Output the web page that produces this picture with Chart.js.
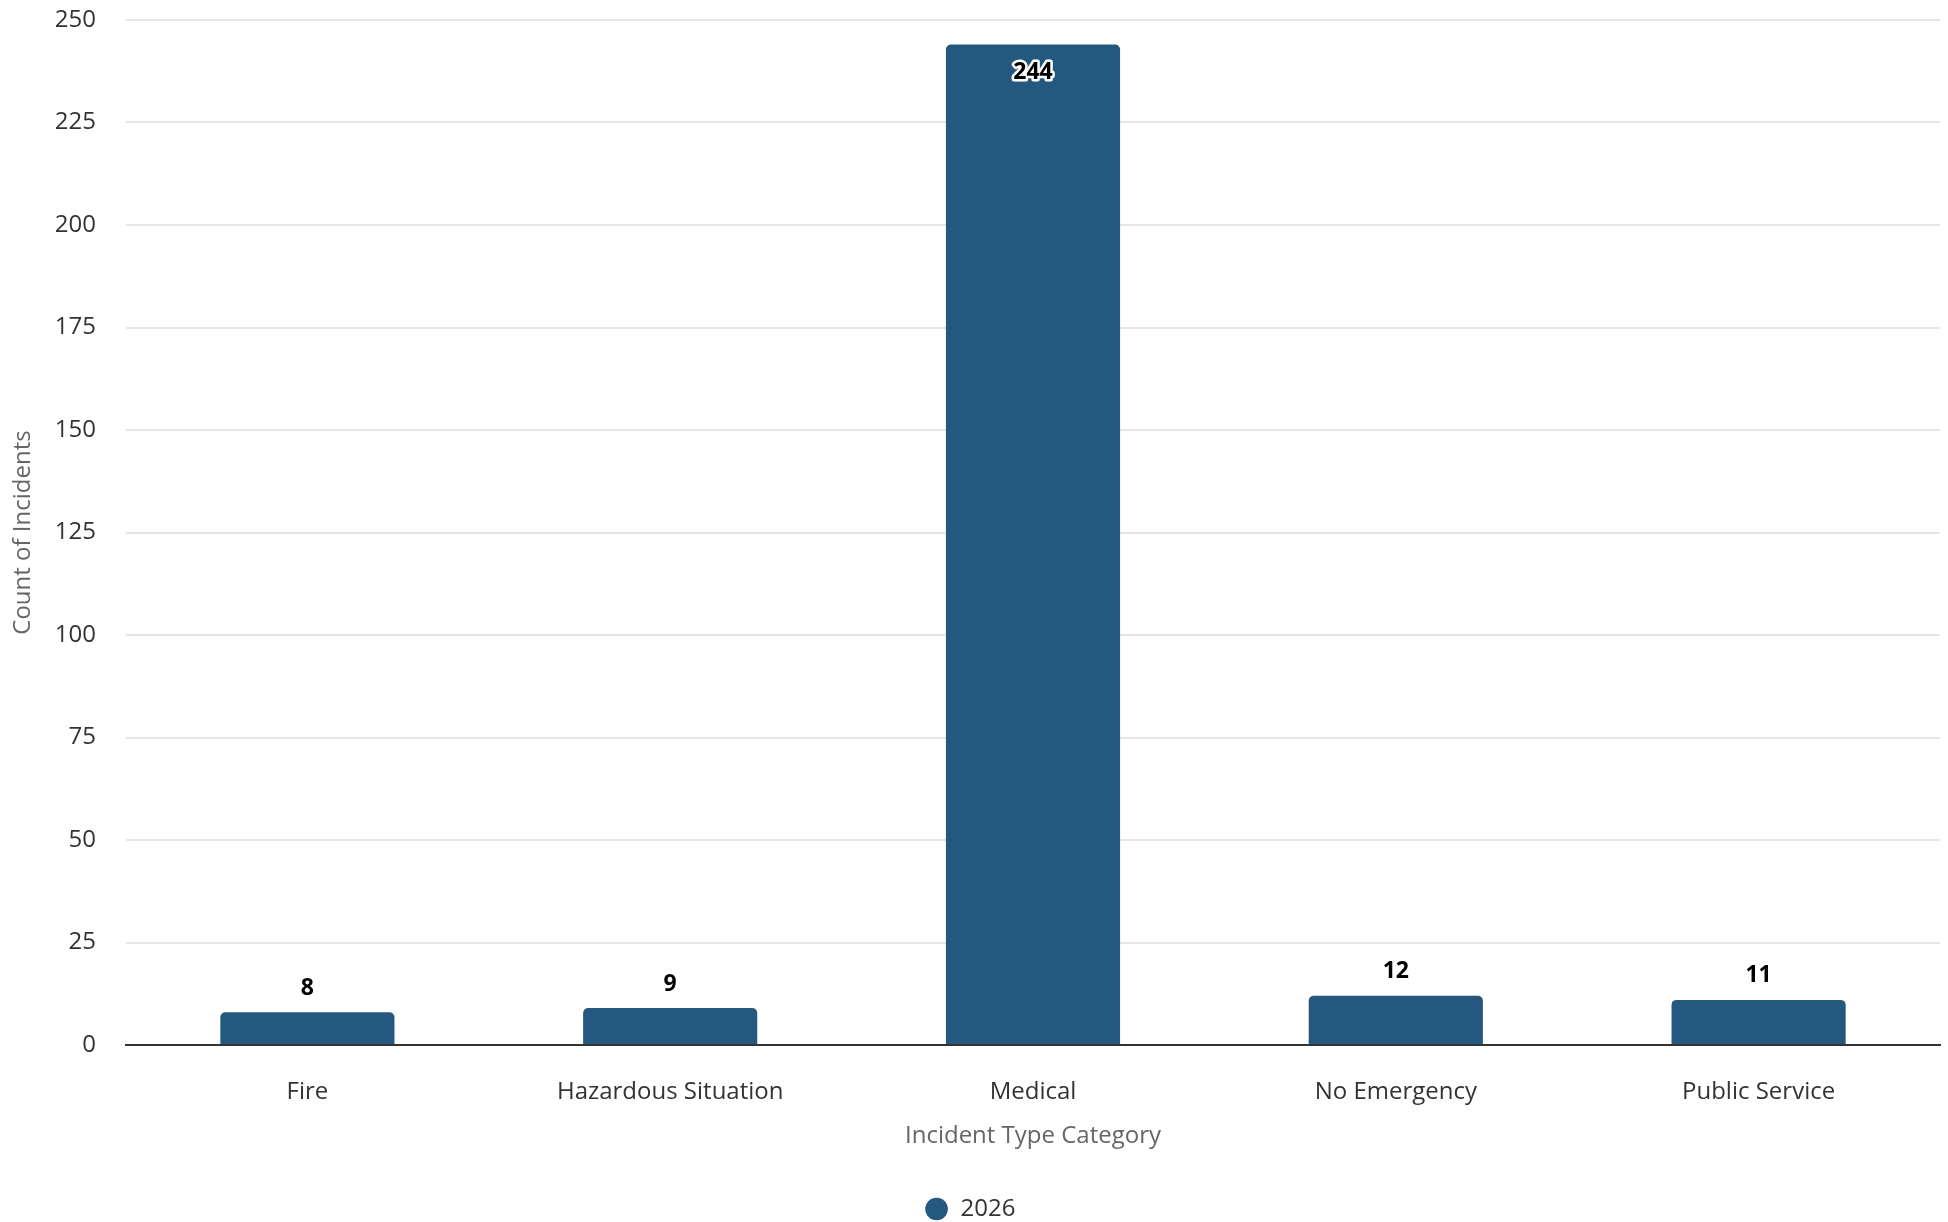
<!DOCTYPE html>
<html lang="en">
<head>
  <meta charset="UTF-8" />
  <title>Incidents by Type</title>
  <script src="https://cdn.jsdelivr.net/npm/chart.js"></script>
  <style>
    html, body { margin: 0; padding: 0; background: #fff; }
    #wrap { width: 1948px; height: 1222px; }
  </style>
</head>
<body>
  <div id="wrap"><canvas id="chart"></canvas></div>

  <script>
    const categories = ['Fire', 'Hazardous Situation', 'Medical', 'No Emergency', 'Public Service'];
    const counts2026 = [8, 9, 244, 12, 11];
    const yTicks = [0, 25, 50, 75, 100, 125, 150, 175, 200, 225, 250];

    const FONT = "'Open Sans', 'Noto Sans', sans-serif";
    const BAR = '#24587e';

    // value labels: above the bar, or inside with a white halo when there's no room
    const valueLabels = {
      id: 'valueLabels',
      afterDatasetsDraw(chart) {
        const ctx = chart.ctx;
        const meta = chart.getDatasetMeta(0);
        ctx.save();
        ctx.font = 'bold 23px ' + FONT;
        ctx.textAlign = 'center';
        ctx.textBaseline = 'middle';
        meta.data.forEach((bar, i) => {
          const txt = String(counts2026[i]);
          let y = bar.y - 24;
          if (y - 12 < chart.chartArea.top) {
            y = bar.y + 28;
            ctx.lineWidth = 5;
            ctx.lineJoin = 'round';
            ctx.strokeStyle = '#fff';
            ctx.strokeText(txt, bar.x, y);
          }
          ctx.fillStyle = '#000';
          ctx.fillText(txt, bar.x, y);
        });
        ctx.restore();
      }
    };

    new Chart(document.getElementById('chart'), {
      type: 'bar',
      data: {
        labels: categories,
        datasets: [{
          label: '2026',
          data: counts2026,
          backgroundColor: BAR,
          borderRadius: { topLeft: 5, topRight: 5 },
          borderSkipped: 'bottom',
          categoryPercentage: 1,
          barPercentage: 0.48
        }]
      },
      options: {
        responsive: true,
        maintainAspectRatio: false,
        animation: false,
        layout: { padding: { top: 20, right: 8, bottom: -9, left: 0 } },
        plugins: {
          tooltip: { enabled: false },
          legend: {
            position: 'bottom',
            labels: {
              usePointStyle: true,
              pointStyle: 'circle',
              boxWidth: 30,
              boxHeight: 16,
              padding: 0,
              color: '#333',
              font: { family: FONT, size: 24 }
            }
          }
        },
        scales: {
          x: {
            afterFit(scale) { scale.height = 152; },
            grid: { display: false },
            border: { display: true, color: '#333', width: 2 },
            ticks: { color: '#333', padding: 25, font: { family: FONT, size: 24 } },
            title: {
              display: true,
              text: 'Incident Type Category',
              color: '#666',
              padding: { top: 10, bottom: 46 },
              font: { family: FONT, size: 24 }
            }
          },
          y: {
            min: 0,
            max: 250,
            afterBuildTicks(scale) { scale.ticks = yTicks.map(v => ({ value: v })); },
            afterFit(scale) {
              scale.width = 126;
              scale.paddingTop = 0;
              scale.paddingBottom = 0;
            },
            grid: { color: '#e6e6e6', lineWidth: 2, drawTicks: false },
            border: { display: false },
            ticks: { color: '#333', padding: 30, font: { family: FONT, size: 24 } },
            title: {
              display: true,
              text: 'Count of Incidents',
              color: '#666',
              padding: { top: 9, bottom: 0 },
              font: { family: FONT, size: 24 }
            }
          }
        }
      },
      plugins: [valueLabels]
    });
  </script>
</body>
</html>
